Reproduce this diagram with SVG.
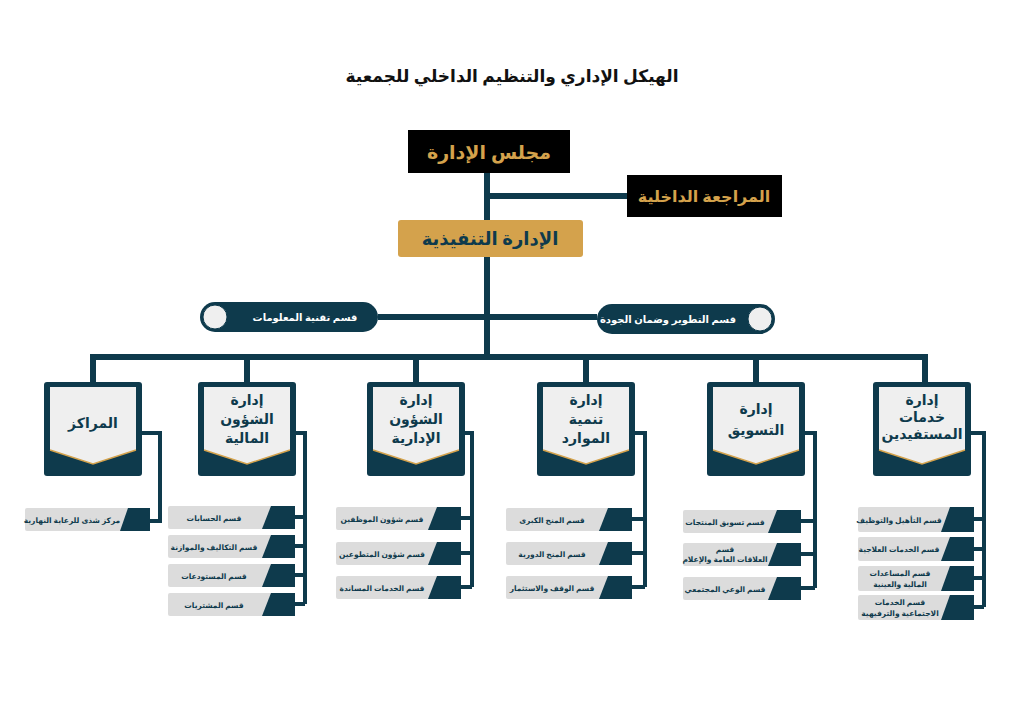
<svg xmlns="http://www.w3.org/2000/svg" width="1024" height="724" viewBox="0 0 1024 724">
<defs>
<style>
text{font-family:"Noto Sans","DejaVu Sans",sans-serif;font-weight:bold;text-anchor:middle}
.ln{stroke:#0e3a4c;stroke-width:6;fill:none}
.br{stroke:#0e3a4c;stroke-width:4;fill:none}
.dk{fill:#0e3a4c}
.lt{fill:#efefef}
.gy{fill:#dcdcdc}
.ht{fill:#0e3a4c;font-size:14px}
.ct{fill:#0e3a4c;font-size:7.5px}
</style>
<g id="hd">
<rect x="-49" y="0" width="98" height="94" rx="3" class="dk"/>
<path d="M-43 5H43V68L0 82L-43 68Z" class="lt"/>
<path d="M-43 68L0 82L43 68" stroke="#d4a24c" stroke-width="1.5" fill="none"/>
</g>
</defs>
<rect width="1024" height="724" fill="#fff"/>
<text x="512" y="82" font-size="17" fill="#111">الهيكل الإداري والتنظيم الداخلي للجمعية</text>
<g id="connectors">
<path class="ln" d="M487 173V357M487 196H627M378 317H597M90 357H928M93 357V382M247 357V382M416 357V382M586 357V382M756 357V382M925 357V382"/>
<path class="br" d="M141 433H160V521H150"/>
<path class="br" d="M296 433H305V604M295 517H305M295 546H305M295 575H305M295 604H305"/>
<path class="br" d="M465 433H472V587M461 518H472M461 553H472M461 587H472"/>
<path class="br" d="M634 433H645V587M632 519H645M632 553H645M632 587H645"/>
<path class="br" d="M803 433H815V588M801 521H815M801 554H815M801 588H815"/>
<path class="br" d="M970 433H984V607M974 519H984M974 549H984M974 578H984M974 607H984"/>
</g>
<g id="board"><rect x="408" y="130" width="162" height="43" fill="#000"/><text x="489" y="159" font-size="19" fill="#d4a24c">مجلس الإدارة</text></g>
<g id="audit"><rect x="627" y="175" width="155" height="42" fill="#000"/><text x="704" y="202" font-size="16" fill="#d4a24c">المراجعة الداخلية</text></g>
<g id="exec"><rect x="398" y="220" width="185" height="37" rx="3" fill="#d4a24c"/><text x="490" y="245" font-size="18" fill="#0e3a4c">الإدارة التنفيذية</text></g>
<g id="it"><rect x="200" y="302" width="178" height="30" rx="15" class="dk"/><circle cx="215" cy="317" r="12" class="lt" stroke="#0e3a4c"/><text x="305" y="321" font-size="10" fill="#fff">قسم تقنية المعلومات</text></g>
<g id="qa"><rect x="597" y="304" width="178" height="30" rx="15" class="dk"/><circle cx="760" cy="319" r="12" class="lt" stroke="#0e3a4c"/><text x="668" y="323" font-size="10" fill="#fff">قسم التطوير وضمان الجودة</text></g>
<g id="d1"><use href="#hd" x="93" y="382"/><text x="93" y="428" class="ht" font-size="16">المراكز</text></g>
<g id="d2"><use href="#hd" x="247" y="382"/><text class="ht"><tspan x="247" y="405">إدارة</tspan><tspan x="247" y="424">الشؤون</tspan><tspan x="247" y="443">المالية</tspan></text></g>
<g id="d3"><use href="#hd" x="416" y="382"/><text class="ht"><tspan x="416" y="405">إدارة</tspan><tspan x="416" y="424">الشؤون</tspan><tspan x="416" y="443">الإدارية</tspan></text></g>
<g id="d4"><use href="#hd" x="586" y="382"/><text class="ht"><tspan x="586" y="405">إدارة</tspan><tspan x="586" y="424">تنمية</tspan><tspan x="586" y="443">الموارد</tspan></text></g>
<g id="d5"><use href="#hd" x="756" y="382"/><text class="ht" font-size="15"><tspan x="756" y="414">إدارة</tspan><tspan x="756" y="435">التسويق</tspan></text></g>
<g id="d6"><use href="#hd" x="922" y="382"/><text class="ht" font-size="12"><tspan x="922" y="405">إدارة</tspan><tspan x="922" y="422">خدمات</tspan><tspan x="922" y="439">المستفيدين</tspan></text></g>
<g id="children">
<g id="c1"><rect x="25" y="508" width="125" height="23" rx="2" class="gy"/><path d="M128 508H150V531H120Z" class="dk"/><text x="72" y="523" class="ct" font-size="7">مركز شذى للرعاية النهارية</text></g>
<g id="c21"><rect x="168" y="506" width="127" height="23" rx="2" class="gy"/><path d="M271 506H295V529H262Z" class="dk"/><text x="214" y="521" class="ct">قسم الحسابات</text></g>
<g id="c22"><rect x="168" y="535" width="127" height="23" rx="2" class="gy"/><path d="M271 535H295V558H262Z" class="dk"/><text x="214" y="550" class="ct">قسم التكاليف والموازنة</text></g>
<g id="c23"><rect x="168" y="564" width="127" height="23" rx="2" class="gy"/><path d="M271 564H295V587H262Z" class="dk"/><text x="214" y="579" class="ct">قسم المستودعات</text></g>
<g id="c24"><rect x="168" y="593" width="127" height="23" rx="2" class="gy"/><path d="M271 593H295V616H262Z" class="dk"/><text x="214" y="608" class="ct">قسم المشتريات</text></g>
<g id="c31"><rect x="336" y="507" width="125" height="23" rx="2" class="gy"/><path d="M437 507H461V530H428Z" class="dk"/><text x="382" y="522" class="ct">قسم شؤون الموظفين</text></g>
<g id="c32"><rect x="336" y="542" width="125" height="23" rx="2" class="gy"/><path d="M437 542H461V565H428Z" class="dk"/><text x="382" y="557" class="ct">قسم شؤون المتطوعين</text></g>
<g id="c33"><rect x="336" y="576" width="125" height="23" rx="2" class="gy"/><path d="M437 576H461V599H428Z" class="dk"/><text x="382" y="591" class="ct">قسم الخدمات المساندة</text></g>
<g id="c41"><rect x="506" y="508" width="126" height="23" rx="2" class="gy"/><path d="M608 508H632V531H599Z" class="dk"/><text x="552" y="523" class="ct">قسم المنح الكبرى</text></g>
<g id="c42"><rect x="506" y="542" width="126" height="23" rx="2" class="gy"/><path d="M608 542H632V565H599Z" class="dk"/><text x="552" y="557" class="ct">قسم المنح الدورية</text></g>
<g id="c43"><rect x="506" y="576" width="126" height="23" rx="2" class="gy"/><path d="M608 576H632V599H599Z" class="dk"/><text x="552" y="591" class="ct">قسم الوقف والاستثمار</text></g>
<g id="c51"><rect x="683" y="510" width="118" height="23" rx="2" class="gy"/><path d="M777 510H801V533H768Z" class="dk"/><text x="725" y="525" class="ct">قسم تسويق المنتجات</text></g>
<g id="c52"><rect x="683" y="543" width="118" height="23" rx="2" class="gy"/><path d="M777 543H801V566H768Z" class="dk"/><text class="ct" font-size="6.5"><tspan x="725" y="552">قسم</tspan><tspan x="725" y="562">العلاقات العامة والإعلام</tspan></text></g>
<g id="c53"><rect x="683" y="577" width="118" height="23" rx="2" class="gy"/><path d="M777 577H801V600H768Z" class="dk"/><text x="725" y="592" class="ct">قسم الوعي المجتمعي</text></g>
<g id="c61"><rect x="858" y="507" width="116" height="25" rx="2" class="gy"/><path d="M950 507H974V532H941Z" class="dk"/><text x="899" y="523" class="ct" font-size="7">قسم التأهيل والتوظيف</text></g>
<g id="c62"><rect x="858" y="537" width="116" height="24" rx="2" class="gy"/><path d="M950 537H974V561H941Z" class="dk"/><text x="899" y="552" class="ct" font-size="7">قسم الخدمات العلاجية</text></g>
<g id="c63"><rect x="858" y="566" width="116" height="25" rx="2" class="gy"/><path d="M950 566H974V591H941Z" class="dk"/><text class="ct" font-size="7"><tspan x="900" y="576">قسم المساعدات</tspan><tspan x="900" y="587">المالية والعينية</tspan></text></g>
<g id="c64"><rect x="858" y="595" width="116" height="25" rx="2" class="gy"/><path d="M950 595H974V620H941Z" class="dk"/><text class="ct" font-size="7"><tspan x="900" y="605">قسم الخدمات</tspan><tspan x="900" y="616">الاجتماعية والترفيهية</tspan></text></g>
</g>
</svg>
